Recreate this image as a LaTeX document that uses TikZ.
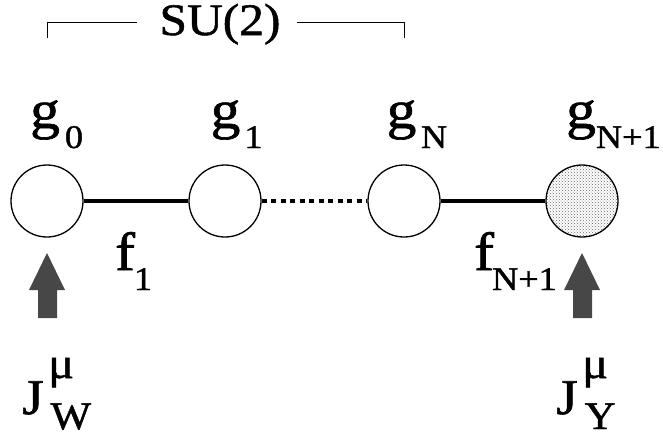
\documentclass[tikz,border=0pt]{standalone}
\usepackage{fontspec}
\setmainfont[FakeStretch=1.1,FakeBold=1.2]{Liberation Serif}
\usetikzlibrary{patterns}
\newcommand\bigfont{\fontsize{54}{54}\selectfont}
\newcommand\subfont{\fontsize{33}{33}\selectfont}
\newcommand\glab[3]{{\bigfont #1}\kern#3pt\raisebox{-20pt}{\subfont #2}}
\newcommand\jlab[1]{{\fontsize{50}{50}\selectfont J}\kern4.5pt\rlap{\raisebox{36pt}{\fontsize{44}{44}\selectfont μ}}\kern2.5pt\raisebox{-15pt}{\fontsize{39}{39}\selectfont #1}}
\begin{document}
\begin{tikzpicture}[x=1pt,y=-1pt,
  site/.style={circle,draw,line width=1.3pt,minimum size=72pt,inner sep=0pt},
  link/.style={line width=3.8pt},
  dotlink/.style={line width=4pt,dash pattern=on 5pt off 4.5pt},
  lab/.style={inner sep=0pt,anchor=base west},
  bracket/.style={line width=0.9pt},
  blockarrow/.style={fill=black!72,draw=none}]
\useasboundingbox (0,0) rectangle (663,432);
% bracket
\coordinate (bl) at (47,38);
\coordinate (blt) at (47,22);
\coordinate (blr) at (137,22);
\coordinate (brl) at (297,22);
\coordinate (brt) at (404,22);
\coordinate (br) at (404,38);
\node[inner sep=0pt,anchor=base] (su) at (220,35) {\fontsize{45}{45}\selectfont SU(2)};
\draw[bracket] (bl) -- (blt) -- (blr);
\draw[bracket] (brl) -- (brt) -- (br);
% sites
\node[site] (s0) at (47,201) {};
\node[site] (s1) at (225,201) {};
\node[site] (sN) at (404,201) {};
\node[site,pattern=crosshatch dots,pattern color=black!60] (sN1) at (582,201) {};
\draw[link] (s0) -- (s1);
\draw[dotlink] (s1) -- (sN);
\draw[link] (sN) -- (sN1);
% labels
\node[lab] (g0) at (30,128) {\glab{g}{0}{5}};
\node[lab] (g1) at (210.5,128) {\glab{g}{1}{4}};
\node[lab] (gN) at (386.5,128) {\glab{g}{N}{4.5}};
\node[lab] (gN1) at (566,128) {\glab{g}{N+1}{0}};
\node[lab] (f1) at (115,270) {\glab{f}{1}{-1}};
\node[lab] (fN1) at (474,270) {\glab{f}{N+1}{-2}};
% arrows
\fill[blockarrow] (38,318) -- (38,290) -- (29,290) -- (47,253) -- (65,290) -- (57,290) -- (57,318) -- cycle;
\fill[blockarrow] (573,318) -- (573,290) -- (564,290) -- (582,253) -- (600,290) -- (592,290) -- (592,318) -- cycle;
% currents
\node[lab] (jw) at (22,414) {\jlab{W}};
\node[lab] (jy) at (556,414) {\jlab{Y}};
\end{tikzpicture}
\end{document}
